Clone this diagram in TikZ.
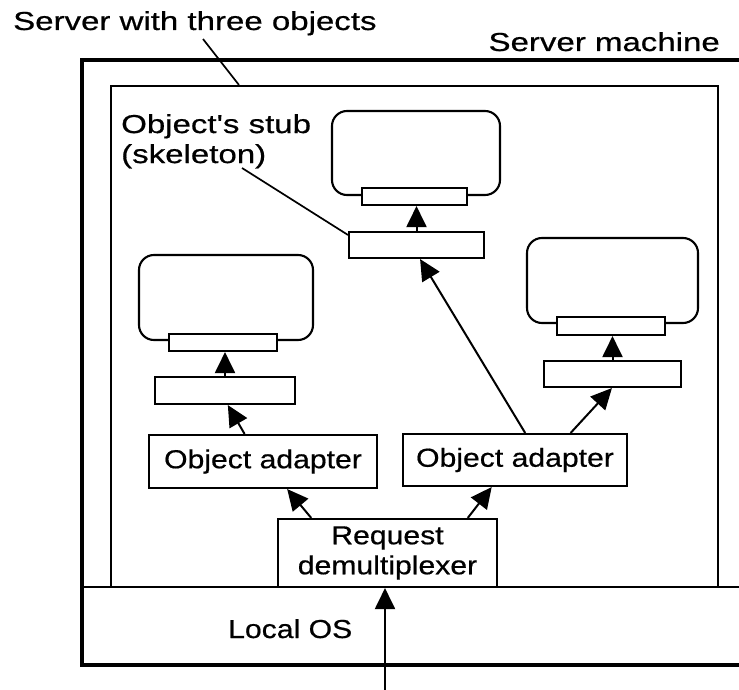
\documentclass[tikz,border=0pt]{standalone}
\usepackage{fontspec}
\setmainfont{Liberation Sans}[FakeStretch=1.16,FakeBold=0.6]
\newfontfamily\widefont{Liberation Sans}[FakeStretch=1.27,FakeBold=0.6]
\usetikzlibrary{arrows.meta,calc}
\begin{document}
\begin{tikzpicture}[x=1pt,y=-1pt,
  every node/.style={font=\fontsize{26}{30}\selectfont, inner sep=0pt},
  widelabel/.style={font=\widefont\fontsize{26}{30}\selectfont},
  box/.style={draw, line width=2.1pt, rectangle},
  objbody/.style={draw, line width=2.1pt, rounded corners=15pt, rectangle},
  objbar/.style={draw, line width=2.1pt, rectangle, fill=white},
  arr/.style={line width=2pt, -{Triangle[length=21pt,width=20pt]}},
  pin/.style={line width=1.7pt}]
\useasboundingbox (0,0) rectangle (739,690);

% server machine frame and local OS band
\draw[line width=3.8pt] (739,60) -- (82,60) -- (82,665) -- (739,665);
\draw[line width=2.8pt] (82,587) -- (739,587);
\node[draw, line width=2.1pt, minimum width=607pt, minimum height=501pt] (inner) at (414.5,336.5) {};

% labels
\node[widelabel, anchor=base west] (title) at (13,30) {Server with three objects};
\node[widelabel, anchor=base east] (machine) at (720,51) {Server machine};
\node[widelabel, anchor=north west, align=left] (stublbl) at (121,114) {Object's stub\\(skeleton)};
\node[anchor=base west] (localos) at (228,638) {Local OS};

% objects (middle, left, right)
\node[objbody, minimum width=168pt, minimum height=84pt] (bodyM) at (416,153) {};
\node[objbar,  minimum width=105pt, minimum height=17pt] (barM) at (414.5,196.5) {};
\node[box,     minimum width=135pt, minimum height=26pt] (stubM) at (416.5,245) {};

\node[objbody, minimum width=174pt, minimum height=85pt] (bodyL) at (226,297.5) {};
\node[objbar,  minimum width=108pt, minimum height=17pt] (barL) at (223,342.5) {};
\node[box,     minimum width=140pt, minimum height=27pt] (stubL) at (225,390.5) {};

\node[objbody, minimum width=171pt, minimum height=85pt] (bodyR) at (612.5,280.5) {};
\node[objbar,  minimum width=108pt, minimum height=18pt] (barR) at (611,326) {};
\node[box,     minimum width=137pt, minimum height=26pt] (stubR) at (612.5,374) {};

% adapters and demultiplexer
\node[box, minimum width=228pt, minimum height=53pt] (oaL) at (263,461.5) {Object adapter};
\node[box, minimum width=224pt, minimum height=52pt] (oaR) at (515,460) {Object adapter};
\node[box, minimum width=219pt, minimum height=68pt, align=center] (demux) at (387.5,553) {Request\\demultiplexer};

% pointer lines
\coordinate (titlepin) at (203,39);
\draw[pin] (titlepin) -- ($(inner.north west)+(129,0)$);
\coordinate (stubpin) at (242,168);
\draw[pin] (stubpin) -- ($(stubM.north west)+(0,4)$);

% arrows
\draw[arr] (stubM.north) -- (stubM.north |- barM.south);
\draw[arr] (stubL.north) -- (stubL.north |- barL.south);
\draw[arr] (stubR.north) -- (stubR.north |- barR.south);

\draw[arr] ($(oaL.north west)!0.42!(oaL.north east)$) -- ($(stubL.south west)!0.52!(stubL.south east)$);
\draw[arr] ($(oaR.north west)!0.545!(oaR.north east)$) -- ($(stubM.south west)!0.526!(stubM.south east)$);
\draw[arr] ($(oaR.north west)!0.746!(oaR.north east)$) -- ($(stubR.south west)!0.496!(stubR.south east)$);

\draw[arr] ($(demux.north west)!0.155!(demux.north east)$) -- ($(oaL.south west)!0.605!(oaL.south east)$);
\draw[arr] ($(demux.north west)!0.863!(demux.north east)$) -- ($(oaR.south west)!0.397!(oaR.south east)$);

\coordinate (incoming) at (385,690);
\draw[arr] (incoming) -- (incoming |- demux.south);
\end{tikzpicture}
\end{document}
